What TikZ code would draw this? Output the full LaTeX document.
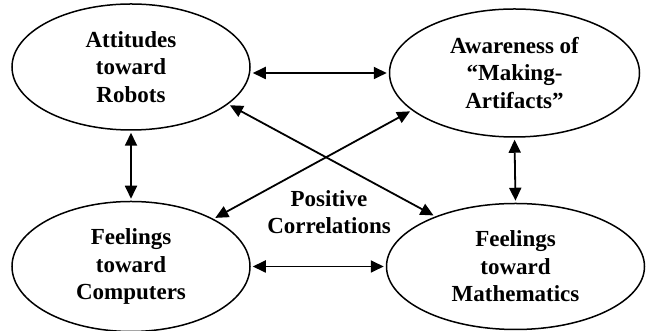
\documentclass[tikz,border=0pt]{standalone}
\usepackage{fontspec}
\setmainfont{Liberation Serif}
\usetikzlibrary{arrows.meta, positioning, shapes.geometric}

\begin{document}
\begin{tikzpicture}[
  x=1pt, y=1pt,
  attitude/.style={draw, ellipse, line width=1.5pt, inner sep=0pt, minimum width=238pt, minimum height=128pt, align=center, font=\fontsize{23}{27.5}\selectfont\bfseries},
  corr/.style={<->, >={Triangle[length=13pt, width=12pt]}, line width=1.8pt, shorten <=2pt, shorten >=2pt}
]
  \useasboundingbox (0,0) rectangle (646,331);

  \node[attitude, minimum height=126pt] (robots) at (131,264) {Attitudes\\toward\\Robots};
  \node[attitude, minimum width=250pt, right=138pt of robots, yshift=-6pt] (making) {Awareness of\\``Making-\\Artifacts''};
  \node[attitude, minimum height=130pt, below=70pt of robots] (computers) {Feelings\\toward\\Computers};
  \node[attitude, minimum width=258pt, minimum height=126pt, right=135pt of computers] (maths) {Feelings\\toward\\Mathematics};
  \node[align=center, font=\fontsize{23}{27.5}\selectfont\bfseries] (pos) at (329,119) {Positive\\Correlations};

  \draw[corr] (robots.east |- making.west) -- (making.west);
  \draw[corr] (computers.east |- maths.west) -- (maths.west);
  \draw[corr] (robots.south) -- (computers.north);
  \draw[corr] (making.south) -- (maths.north);
  \draw[corr] (robots.-21) -- (maths.148);
  \draw[corr] (making.200) -- (computers.30);
\end{tikzpicture}
\end{document}
